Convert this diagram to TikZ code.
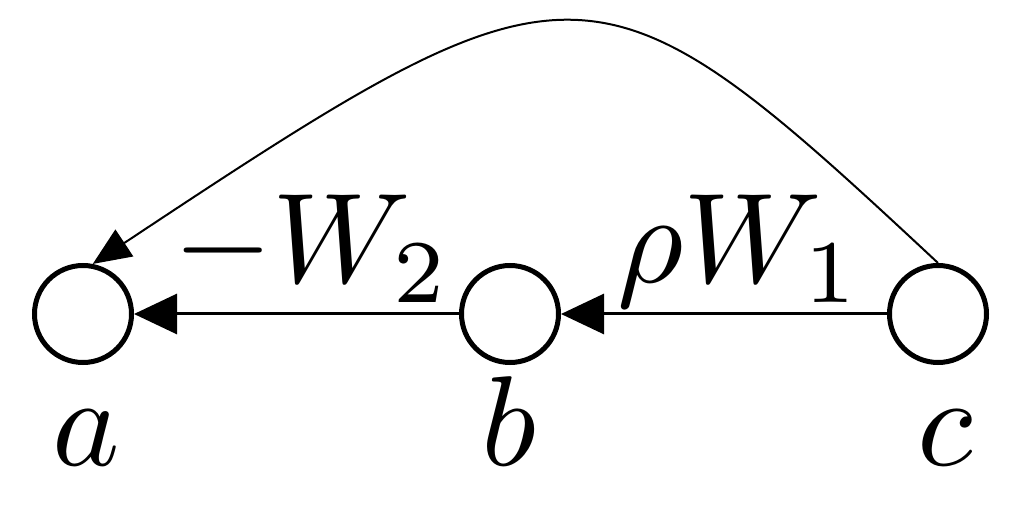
\documentclass[tikz,border=0pt]{standalone}
\usepackage{graphicx}
\usetikzlibrary{arrows.meta}
\begin{document}
\begin{tikzpicture}[x=0.5pt,y=-0.5pt,
  vertex/.style={circle,draw,line width=2.5pt,minimum size=48.5pt,inner sep=0pt},
  edge/.style={line width=1.5pt,-{Triangle[length=21.5pt,width=20pt]}},
  curved/.style={line width=1pt,-{Triangle[length=19pt,width=16pt]}},
  lab/.style={inner sep=0pt,anchor=base}]
\useasboundingbox (0,0) rectangle (1022,507);
\node[vertex] (a) at (83,314) {};
\node[vertex] (b) at (510,314) {};
\node[vertex] (c) at (938,314) {};
\node[lab] (la) at (86,465) {\scalebox{6.4}{$a$}};
\node[lab] (lb) at (509,465) {\scalebox{6.4}{$b$}};
\node[lab] (lc) at (945,465) {\scalebox{6.4}{$c$}};
\node[lab] (w2) at (312,283) {\scalebox{6.4}{$-W_2$}};
\node[lab] (w1) at (740,283) {\scalebox{6.4}{$\rho W_1$}};
\draw[edge] (b) -- (a);
\draw[edge] (c) -- (b);
\draw[curved] (c.north) .. controls (594,-58) and (578,-58) .. (a.79);
\end{tikzpicture}
\end{document}
